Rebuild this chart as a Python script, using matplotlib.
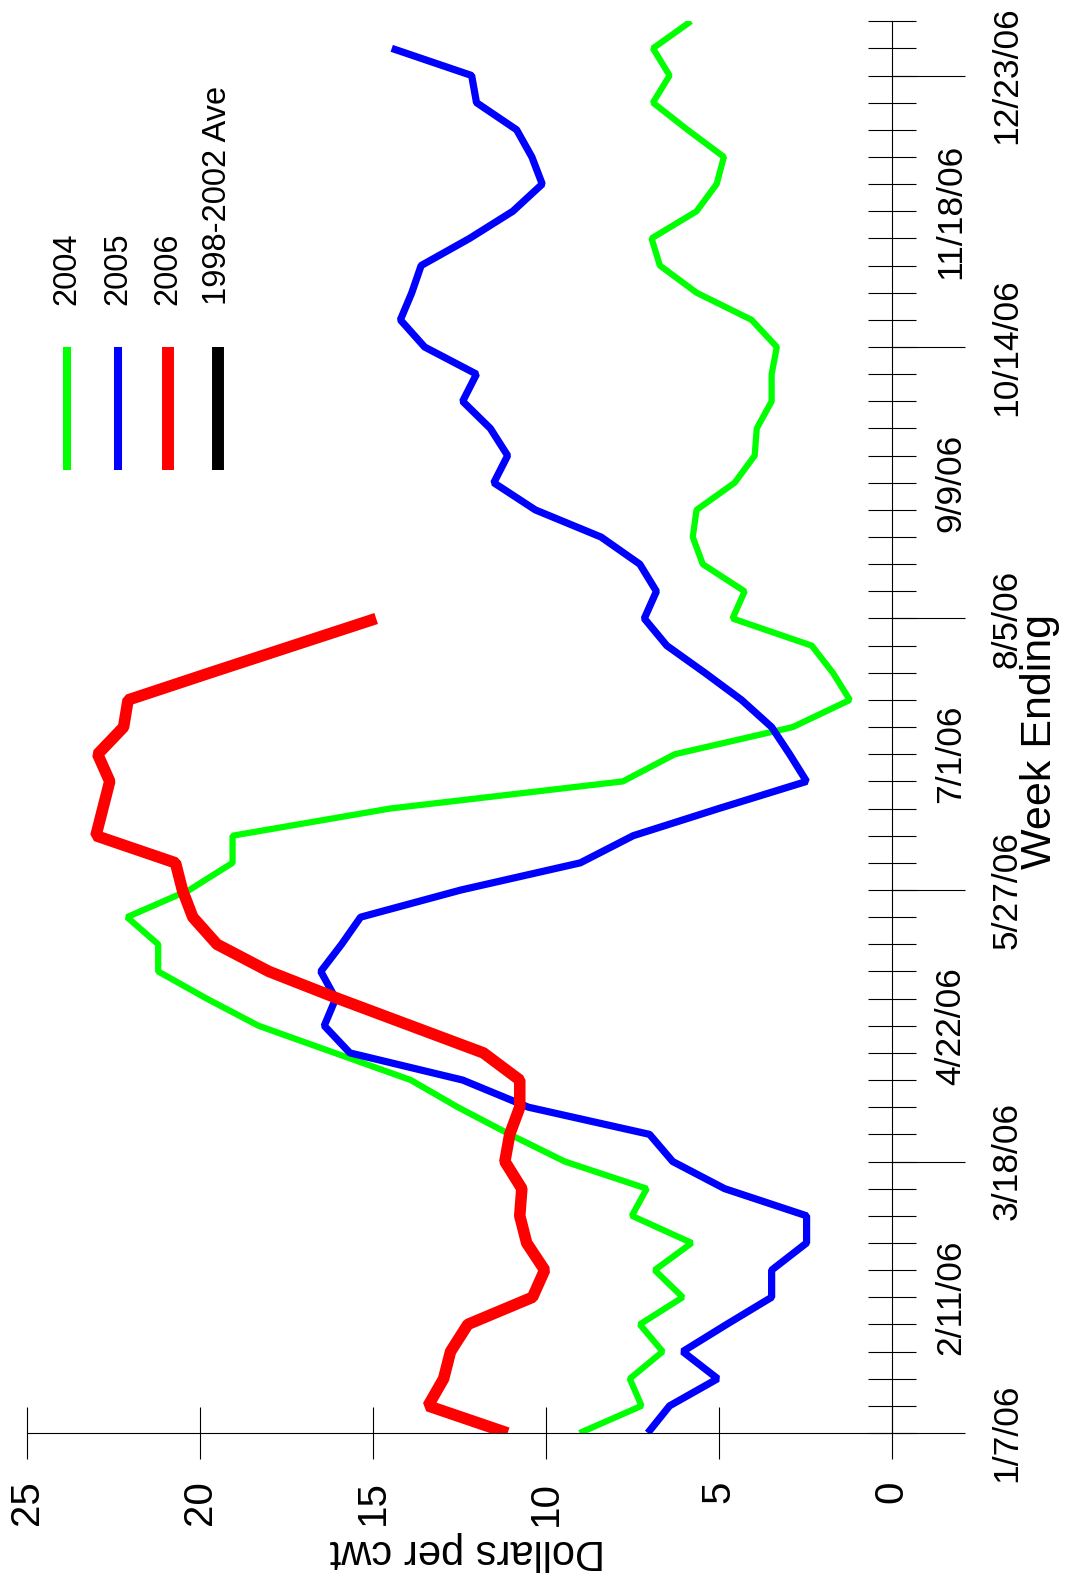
import numpy as np
import matplotlib
matplotlib.use('Agg')
import matplotlib.pyplot as plt
from matplotlib.lines import Line2D
from matplotlib.ticker import FixedLocator, FuncFormatter

plt.rcParams['font.family'] = ['Liberation Sans', 'DejaVu Sans']

# weekly prices, dollars per cwt (week 0 = 1/7/06)
price_2004 = [9.02, 7.23, 7.57, 6.62, 7.28, 6.04, 6.85, 5.78, 7.51, 7.08,
              9.45, 11.04, 12.54, 13.9, 16.1, 18.3, 19.8, 21.2, 21.2, 22.1,
              20.3, 19.05, 19.05, 14.5, 7.77, 6.27, 2.86, 1.21, 1.7, 2.31,
              4.6, 4.25, 5.46, 5.75, 5.64, 4.54, 3.96, 3.9, 3.47, 3.47,
              3.32, 4.05, 5.64, 6.7, 6.94, 5.64, 5.06, 4.85, 5.9, 6.9,
              6.42, 6.9, 5.8]
price_2005 = [7.05, 6.42, 5.03, 6.04, 4.77, 3.47, 3.47, 2.46, 2.46, 4.83,
              6.33, 7.0, 10.5, 12.4, 15.66, 16.4, 16.07, 16.5, 15.9, 15.35,
              12.45, 9.0, 7.47, 5.0, 2.46, 2.95, 3.47, 4.34, 5.4, 6.5,
              7.15, 6.8, 7.28, 8.4, 10.3, 11.5, 11.1, 11.6, 12.4, 12.0,
              13.5, 14.2, 13.87, 13.6, 12.2, 10.95, 10.1, 10.4, 10.84, 12.0,
              12.14, 14.45]
price_2006 = [11.1, 13.4, 12.95, 12.75, 12.25, 10.38, 10.03, 10.55, 10.75, 10.69,
              11.18, 11.04, 10.75, 10.75, 11.8, 13.9, 16.0, 18.0, 19.5, 20.2,
              20.5, 20.7, 23.0, 22.8, 22.6, 22.95, 22.2, 22.07, 19.7, 17.3,
              14.9]

series_names = ['2004', '2005', '2006', '1998-2002 Ave']
series_colors = ['#00ff00', '#0000ff', '#ff0000', '#000000']

date_labels = ['1/7/06', '2/11/06', '3/18/06', '4/22/06', '5/27/06', '7/1/06',
               '8/5/06', '9/9/06', '10/14/06', '11/18/06', '12/23/06']
dollar_ticks = [0, 5, 10, 15, 20, 25]

W, H = 1072, 1581
fig = plt.figure(figsize=(W / 100, H / 100), dpi=100)

# axes: dollars run right->left, weeks run bottom->top (chart drawn sideways)
x0, x1 = 26.7, 891.7
y_bot, y_top = 1433, 1433 - 52 * 27.15
ax = fig.add_axes([x0 / W, (H - y_bot) / H, (x1 - x0) / W, (y_bot - y_top) / H])
ax.set_xlim(25, 0)
ax.set_ylim(0, 52)

for sp in ['top', 'left']:
    ax.spines[sp].set_visible(False)
ax.spines['bottom'].set_linewidth(0.8)
ax.spines['right'].set_linewidth(0.8)

ax.plot(price_2004, np.arange(len(price_2004)), color=series_colors[0], lw=4.5,
        solid_joinstyle='bevel', solid_capstyle='butt')
ax.plot(price_2005, np.arange(len(price_2005)), color=series_colors[1], lw=5.2,
        solid_joinstyle='bevel', solid_capstyle='butt')
ax.plot(price_2006, np.arange(len(price_2006)), color=series_colors[2], lw=8.3,
        solid_joinstyle='bevel', solid_capstyle='butt')

# dollar axis
ax.set_xticks(dollar_ticks)
ax.set_xticklabels([str(v) for v in dollar_ticks], rotation=90)
ax.tick_params(axis='x', direction='inout', length=37.4, width=0.8,
               labelsize=29, pad=15.5)

# week axis on the right
ax.yaxis.tick_right()
ax.yaxis.remove_overlapping_locs = False
ax.yaxis.set_major_locator(FixedLocator(range(0, 51, 10)))
ax.yaxis.set_minor_locator(FixedLocator(range(0, 53)))
ax.yaxis.set_major_formatter(FuncFormatter(lambda v, p: date_labels[int(round(v)) // 5]))
ax.yaxis.set_minor_formatter(FuncFormatter(
    lambda v, p: date_labels[int(round(v)) // 5] if int(round(v)) % 10 == 5 and v <= 50 else ''))
ax.tick_params(axis='y', which='major', direction='out', length=52.5, width=0.8,
               labelsize=25.5, pad=18.5, labelrotation=90)
ax.tick_params(axis='y', which='minor', direction='inout', length=35, width=0.8,
               labelsize=25.5, pad=13.0, labelrotation=90)
for lbl in ax.get_yticklabels(which='both'):
    lbl.set_va('center')

fig.text(1040 / W, 1 - 742 / H, 'Week Ending', rotation=90, fontsize=31,
         ha='center', va='center')
fig.text(467 / W, 1 - 1551 / H, 'Dollars per cwt', rotation=180, fontsize=30,
         ha='center', va='center')

# legend: short vertical bars with rotated labels
leg_x = [67, 117.5, 167.5, 218]
leg_w = [5.8, 5.8, 8.6, 8.6]
for xp, lw, name, col in zip(leg_x, leg_w, series_names, series_colors):
    fig.add_artist(Line2D([xp / W, xp / W], [1 - 347 / H, 1 - 470 / H],
                          color=col, lw=lw, solid_capstyle='butt'))
    fig.text(xp / W, 1 - 305 / H, name, rotation=90, fontsize=23.5,
             ha='center', va='bottom')

fig.savefig('out.png', dpi=100)
